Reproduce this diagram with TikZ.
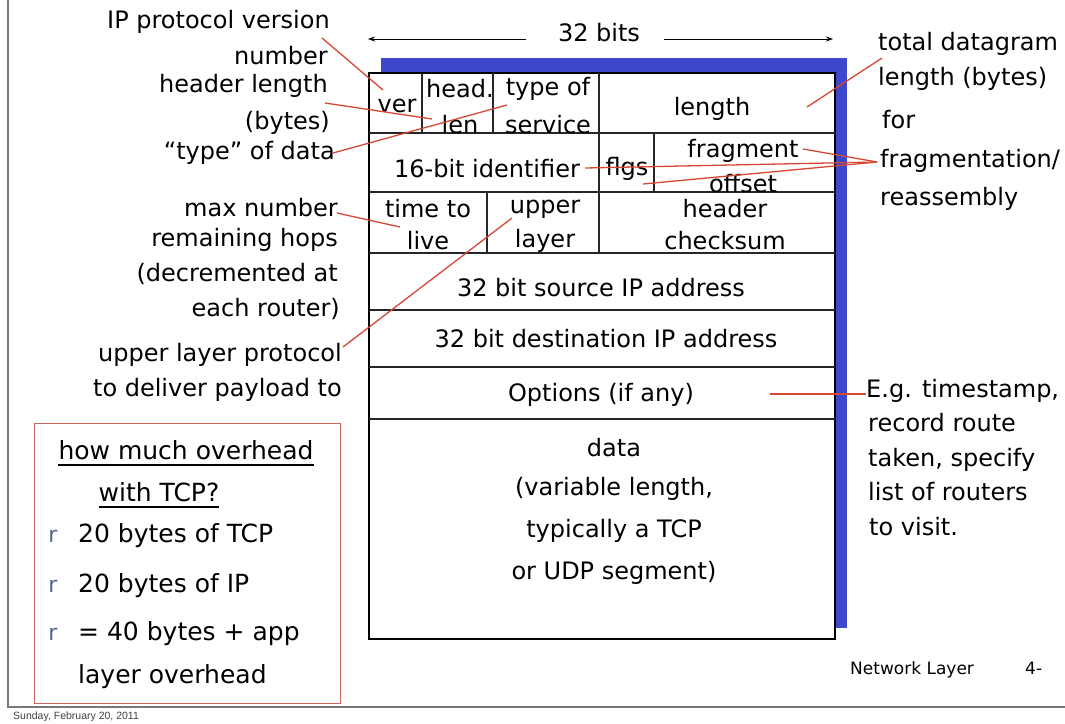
\documentclass[tikz,border=0pt]{standalone}
\usepackage{fontspec}
\setmainfont{DejaVu Sans}
\newfontfamily\footfont{Liberation Sans}
\usetikzlibrary{arrows.meta}
\definecolor{shadowblue}{RGB}{62,72,204}
\definecolor{leader}{RGB}{214,72,52}
\definecolor{boxred}{RGB}{200,100,90}
\definecolor{bulletblue}{RGB}{80,100,150}
\definecolor{framegray}{RGB}{120,120,120}
\begin{document}
\begin{tikzpicture}[x=1pt,y=-1pt,
  txt/.style={font=\fontsize{24}{29}\selectfont, inner sep=0pt},
  ovh/.style={font=\fontsize{25}{30}\selectfont, inner sep=0pt},
  smalltxt/.style={font=\fontsize{17}{20}\selectfont, inner sep=0pt},
  bul/.style={font=\fontsize{22}{26}\selectfont, text=bulletblue, inner sep=0pt},
  leaderline/.style={draw=leader, line width=1.3pt},
  grid/.style={draw=black!85, line width=1.2pt},
  dimarrow/.style={draw=black, line width=1pt, -{Stealth[length=7pt,width=5pt]}}
]
\useasboundingbox (0,0) rectangle (1065,723);
\fill[white] (0,0) rectangle (1065,723);

% slide frame
\draw[framegray, line width=1.5pt] (8,0) -- (8,707) -- (1065,707);

% header table with its shadow
\fill[shadowblue] (381,58) rectangle (847,628);
\filldraw[fill=white, draw=black, line width=1.3pt] (369,73) rectangle (835,639);
\foreach \yy in {133,192,253,310,367,419} \draw[grid] (369,\yy) -- (835,\yy);
\foreach \xx in {422,493,599} \draw[grid] (\xx,73) -- (\xx,133);
\foreach \xx in {599,654} \draw[grid] (\xx,133) -- (\xx,192);
\foreach \xx in {487,599} \draw[grid] (\xx,192) -- (\xx,253);

% field names
\node[txt] (ver) at (397,106) {ver};
\node[txt] (head) at (460,89) {head.};
\node[txt] (len) at (460,125) {len};
\node[txt] (tos1) at (548,89) {type of};
\node[txt] (tos2) at (548,125) {service};
\node[txt] (length) at (712,109) {length};
\node[txt] (ident) at (487,169) {16-bit identifier};
\node[txt] (flgs) at (627,169) {flgs};
\node[txt] (frag1) at (743,151) {fragment};
\node[txt] (frag2) at (743,184) {offset};
\node[txt] (ttl1) at (428,209) {time to};
\node[txt] (ttl2) at (428,241) {live};
\node[txt] (up1) at (545,209) {upper};
\node[txt] (up2) at (545,241) {layer};
\node[txt] (cs1) at (725,209) {header};
\node[txt] (cs2) at (725,241) {checksum};
\node[txt] (src) at (601,288) {32 bit source IP address};
\node[txt] (dst) at (606,339) {32 bit destination IP address};
\node[txt] (opt) at (601,395) {Options (if any)};
\node[txt] (d1) at (614,448) {data};
\node[txt] (d2) at (614,489) {(variable length,};
\node[txt] (d3) at (614,531) {typically a TCP};
\node[txt] (d4) at (614,573) {or UDP segment)};

% width marker
\node[txt] (bits) at (599,33) {32 bits};
\coordinate (bl0) at (526,39);
\coordinate (bl1) at (368,39);
\coordinate (br0) at (664,39);
\coordinate (br1) at (833,39);
\draw[dimarrow] (bl0) -- (bl1);
\draw[dimarrow] (br0) -- (br1);

% left annotations
\node[txt, anchor=mid east] (l1) at (330,26) {IP protocol version};
\node[txt, anchor=mid east] (l2) at (328,62) {number};
\node[txt, anchor=mid east] (l3) at (328,90) {header length};
\node[txt, anchor=mid east] (l4) at (330,127) {(bytes)};
\node[txt, anchor=mid east] (l5) at (335,157) {“type” of data};
\node[txt, anchor=mid east] (l6) at (338,214) {max number};
\node[txt, anchor=mid east] (l7) at (338,244) {remaining hops};
\node[txt, anchor=mid east] (l8) at (338,279) {(decremented at};
\node[txt, anchor=mid east] (l9) at (340,314) {each router)};
\node[txt, anchor=mid east] (l10) at (342,359) {upper layer protocol};
\node[txt, anchor=mid east] (l11) at (342,394) {to deliver payload to};

% right annotations
\node[txt, anchor=mid west] (r1) at (878,48) {total datagram};
\node[txt, anchor=mid west] (r2) at (878,83) {length (bytes)};
\node[txt, anchor=mid west] (r3) at (882,126) {for};
\node[txt, anchor=mid west] (r4) at (880,165) {fragmentation/};
\node[txt, anchor=mid west] (r5) at (880,203) {reassembly};
\node[txt, anchor=mid west] (r6) at (866,395) {E.g. timestamp,};
\node[txt, anchor=mid west] (r7) at (868,429) {record route};
\node[txt, anchor=mid west] (r8) at (868,464) {taken, specify};
\node[txt, anchor=mid west] (r9) at (868,498) {list of routers};
\node[txt, anchor=mid west] (r10) at (869,533) {to visit.};

% leader line end points
\coordinate (pVerA) at (322,38);   \coordinate (pVerB) at (383,90);
\coordinate (pHlA) at (325,103);   \coordinate (pHlB) at (432,119);
\coordinate (pTosA) at (333,153);  \coordinate (pTosB) at (507,105);
\coordinate (pTtlA) at (337,213);  \coordinate (pTtlB) at (400,227);
\coordinate (pUpA) at (343,347);   \coordinate (pUpB) at (512,218);
\coordinate (pLenA) at (882,58);   \coordinate (pLenB) at (807,107);
\coordinate (pFrag) at (877,162);
\coordinate (pFragOff) at (803,149);
\coordinate (pFragId) at (585,168);
\coordinate (pFragFl) at (643,184);
\coordinate (pOptA) at (770,394);  \coordinate (pOptB) at (866,394);

\draw[leaderline] (pVerA) -- (pVerB);
\draw[leaderline] (pHlA) -- (pHlB);
\draw[leaderline] (pTosA) -- (pTosB);
\draw[leaderline] (pTtlA) -- (pTtlB);
\draw[leaderline] (pUpA) -- (pUpB);
\draw[leaderline] (pLenA) -- (pLenB);
\draw[leaderline] (pFrag) -- (pFragOff);
\draw[leaderline] (pFrag) -- (pFragId);
\draw[leaderline] (pFrag) -- (pFragFl);
\draw[leaderline] (pOptA) -- (pOptB);

% overhead box
\draw[boxred, line width=1pt] (34,423) rectangle (340,703);
\node[ovh] (o1) at (186,450) {how much overhead};
\draw[black, line width=1.5pt] ([yshift=-5pt]o1.south west) -- ([yshift=-5pt]o1.south east);
\node[ovh] (o2) at (159,492) {with TCP?};
\draw[black, line width=1.5pt] ([yshift=-5pt]o2.south west) -- ([yshift=-5pt]o2.south east);
\node[bul, anchor=mid] (b1) at (53,540) {r};
\node[ovh, anchor=mid west] (o3) at (78,540) {20 bytes of TCP};
\node[bul, anchor=mid] (b2) at (53,590) {r};
\node[ovh, anchor=mid west] (o4) at (78,590) {20 bytes of IP};
\node[bul, anchor=mid] (b3) at (53,638) {r};
\node[ovh, anchor=mid west] (o5) at (78,638) {= 40 bytes + app};
\node[ovh, anchor=mid west] (o6) at (78,681) {layer overhead};

% footer
\node[smalltxt, anchor=mid west] (nl) at (850,672) {Network Layer};
\node[smalltxt, anchor=mid west] (pg) at (1025,672) {4-};
\node[font=\footfont\fontsize{10.5}{12}\selectfont, text=black!75, inner sep=0pt, anchor=mid west] (foot) at (13,717) {Sunday, February 20, 2011};
\end{tikzpicture}
\end{document}
